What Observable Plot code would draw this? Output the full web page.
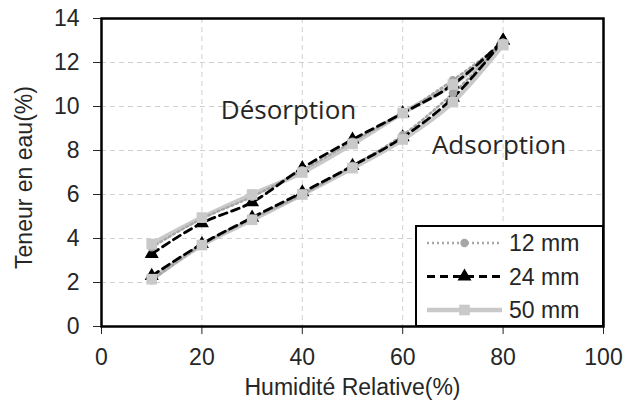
<!DOCTYPE html>
<html><head><meta charset="utf-8">
<script src="https://cdn.jsdelivr.net/npm/d3@7"></script>
<script src="https://cdn.jsdelivr.net/npm/@observablehq/plot@0.6"></script>
<style>body{margin:0;background:#fff}</style>
</head><body><div id="chart"></div>
<script>
const humidity = [10, 20, 30, 40, 50, 60, 70, 80];
const seriesNames = ["12 mm", "24 mm", "50 mm"];
const desorption12 = [3.6, 4.9, 5.9, 7.1, 8.4, 9.7, 11.2, 12.9];
const desorption24 = [3.3, 4.7, 5.65, 7.2, 8.5, 9.7, 11.0, 13.0];
const desorption50 = [3.75, 4.95, 6.0, 7.0, 8.3, 9.7, 11.0, 12.8];
const adsorption12 = [2.1, 3.7, 4.9, 6.0, 7.3, 8.7, 10.6, 12.9];
const adsorption24 = [2.3, 3.75, 4.95, 6.1, 7.3, 8.6, 10.4, 13.0];
const adsorption50 = [2.15, 3.7, 4.85, 6.0, 7.2, 8.5, 10.2, 12.8];
const xTicks = [0, 20, 40, 60, 80, 100];
const yTicks = [0, 2, 4, 6, 8, 10, 12, 14];
const annotations = [
  {label: "Désorption", x: 37.25, y: 9.83},
  {label: "Adsorption", x: 79.2, y: 8.24}
];

const styles = {
  "12 mm": {stroke: "#a6a6a6", width: 2.5, dash: "2,3", symbol: "circle", r: 4.2, fill: "#a6a6a6"},
  "24 mm": {stroke: "#000000", width: 2.8, dash: "8,5", symbol: "triangle", r: 5.2, fill: "#000000"},
  "50 mm": {stroke: "#c9c9c9", width: 4.5, dash: null, symbol: "square", r: 6, fill: "#c9c9c9"}
};

const table = [];
const add = (name, branch, arr) => arr.forEach((v, i) => table.push({series: name, branch, x: humidity[i], y: v}));
add("12 mm", "des", desorption12); add("12 mm", "ads", adsorption12);
add("24 mm", "des", desorption24); add("24 mm", "ads", adsorption24);
add("50 mm", "des", desorption50); add("50 mm", "ads", adsorption50);

const FS = 23;
const TXT = "#262626";
const lineOrder = ["50 mm", "12 mm", "24 mm"];
const dotOrder = ["24 mm", "12 mm", "50 mm"];
const marks = [
  Plot.gridX([20, 40, 60, 80], {stroke: "#d0d0d0", strokeOpacity: 1, strokeDasharray: "5,4", strokeWidth: 1}),
  Plot.gridY([2, 4, 6, 8, 10, 12], {stroke: "#d0d0d0", strokeOpacity: 1, strokeDasharray: "5,4", strokeWidth: 1}),
];
for (const s of lineOrder) {
  const st = styles[s];
  marks.push(Plot.line(table.filter(d => d.series === s), {x: "x", y: "y", z: "branch", stroke: st.stroke, strokeWidth: st.width, strokeDasharray: st.dash, curve: "monotone-x"}));
}
for (const s of dotOrder) {
  const st = styles[s];
  marks.push(Plot.dot(table.filter(d => d.series === s), {x: "x", y: "y", symbol: st.symbol, r: st.r, fill: st.fill, stroke: "none"}));
}
marks.push(
  Plot.text(annotations, {x: "x", y: "y", text: "label", fontFamily: "Open Sans", fontSize: 26, fill: TXT}),
  Plot.axisX(xTicks, {tickSize: 8, tickPadding: 14, fontSize: FS, fill: TXT, label: null}),
  Plot.axisY(yTicks, {tickSize: 8, tickPadding: 14, fontSize: FS, fill: TXT, label: null}),
  Plot.frame({stroke: "#000", strokeWidth: 2.5}),
  Plot.text(["Humidité Relative(%)"], {frameAnchor: "bottom", dy: 61.6, fontSize: FS, fill: TXT, textAnchor: "middle", lineAnchor: "middle"}),
  Plot.text(["Teneur en eau(%)"], {frameAnchor: "left", dx: -76.4, dy: 5, rotate: -90, fontSize: FS, fill: TXT, textAnchor: "middle", lineAnchor: "middle"})
);

const plot = Plot.plot({
  width: 625, height: 409,
  marginLeft: 101, marginRight: 22, marginTop: 18, marginBottom: 83,
  style: {fontFamily: "Liberation Sans, Arial, sans-serif", fontSize: FS + "px", background: "#fff", color: TXT},
  x: {domain: [0, 100], label: null},
  y: {domain: [0, 14], label: null},
  marks
});
document.getElementById("chart").append(plot);

// Legend anchored to the bottom-right corner of the frame
const sx = plot.scale("x"), sy = plot.scale("y");
const right = sx.apply(100), bottom = sy.apply(0);
const svg = d3.select(plot);
const lg = svg.append("g").attr("text-anchor", "start");
const boxW = 187, boxH = 100;
lg.append("rect").attr("x", right - boxW).attr("y", bottom - boxH).attr("width", boxW).attr("height", boxH)
  .attr("fill", "#fff").attr("stroke", "#000").attr("stroke-width", 2);
seriesNames.forEach((s, i) => {
  const st = styles[s];
  const cy = bottom - boxH + 17 + i * 33.5;
  const x0 = right - boxW + 11, x1 = right - boxW + 86;
  lg.append("line").attr("x1", x0).attr("x2", x1).attr("y1", cy).attr("y2", cy)
    .attr("stroke", st.stroke).attr("stroke-width", st.width).attr("stroke-dasharray", st.dash);
  const sym = {circle: d3.symbolCircle, triangle: d3.symbolTriangle, square: d3.symbolSquare}[st.symbol];
  lg.append("path").attr("d", d3.symbol(sym, st.r * st.r * Math.PI)()).attr("transform", `translate(${(x0 + x1) / 2},${cy})`).attr("fill", st.fill);
  lg.append("text").attr("x", right - boxW + 93).attr("y", cy).attr("dy", "0.35em")
    .attr("text-anchor", "start").attr("font-size", FS).attr("fill", TXT).text(s);
});
</script></body></html>
